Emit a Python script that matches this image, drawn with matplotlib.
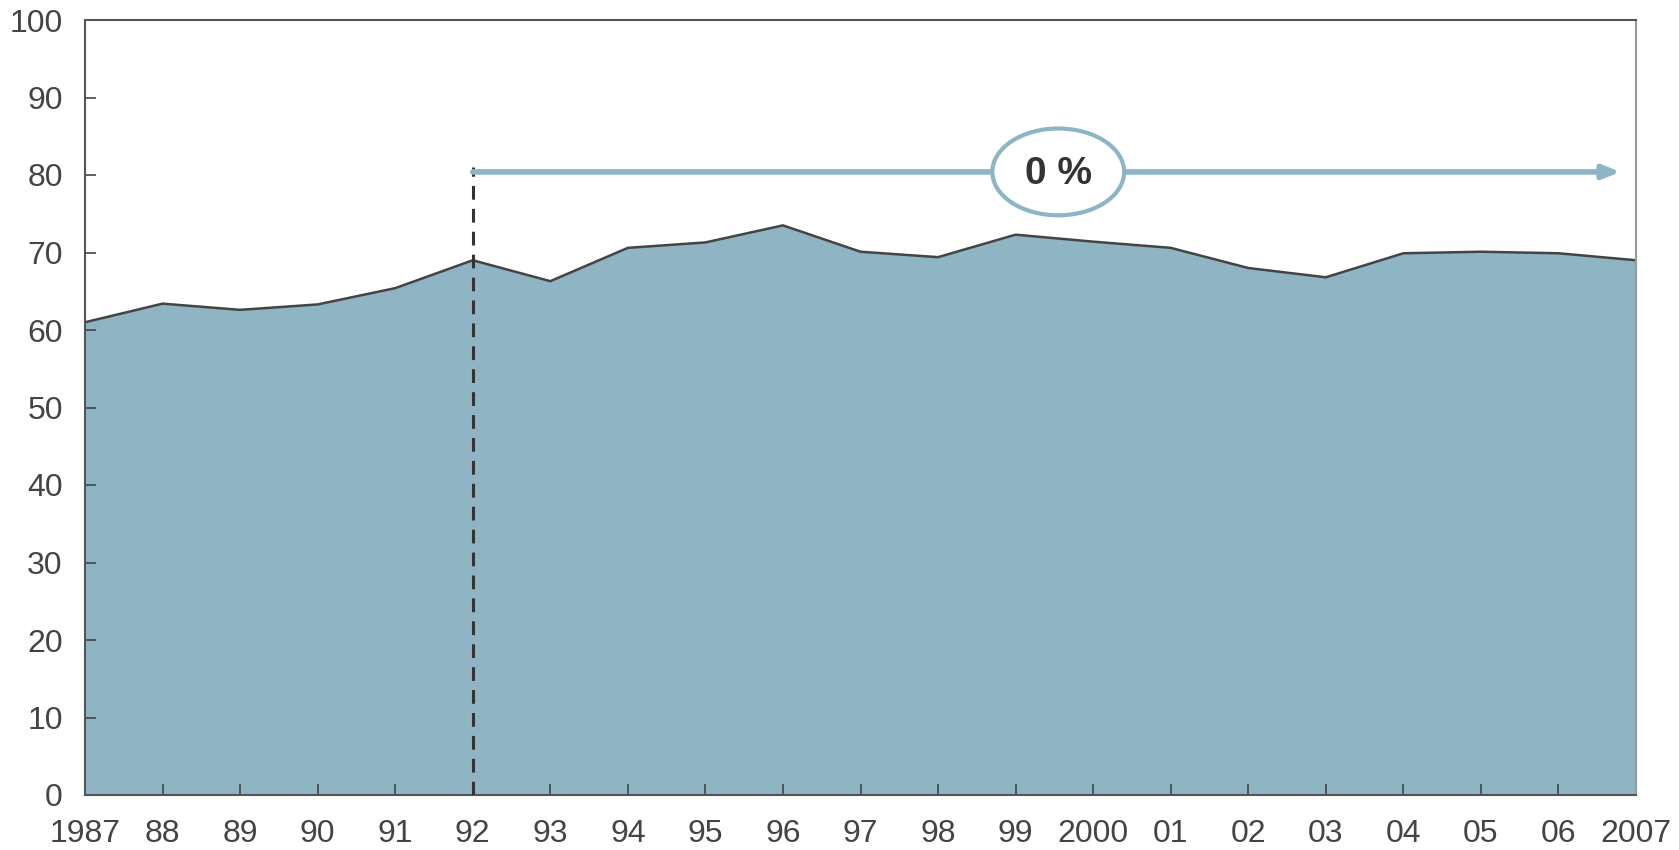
import matplotlib
matplotlib.use("Agg")
import matplotlib.pyplot as plt
from matplotlib.patches import Ellipse

years = list(range(1987, 2008))
values = [61.0, 63.4, 62.6, 63.3, 65.4, 69.0, 66.3, 70.6, 71.3, 73.5, 70.1,
          69.4, 72.3, 71.4, 70.6, 68.0, 66.8, 69.9, 70.1, 69.9, 69.0]
xlabels = ["1987", "88", "89", "90", "91", "92", "93", "94", "95", "96", "97",
           "98", "99", "2000", "01", "02", "03", "04", "05", "06", "2007"]
yticks = list(range(0, 101, 10))
marker_year = 1992
arrow_level = 80.4
label_text = "0 %"

plt.rcParams['font.family'] = ['Liberation Sans', 'DejaVu Sans']

fig = plt.figure(figsize=(16.79, 8.5), dpi=100)
ax = fig.add_axes([85/1679, 1 - 795/850, (1636-85)/1679, (795-20)/850])

fill_c = "#8fb4c4"
line_c = "#444444"
txt_c = "#444444"

ax.fill_between(years, values, 0, color=fill_c, linewidth=0, zorder=1)
ax.plot(years, values, color=line_c, linewidth=1.8, zorder=2)

ax.set_xlim(years[0], years[-1])
ax.set_ylim(0, 100)
ax.set_xticks(years)
ax.set_xticklabels(xlabels)
ax.set_yticks(yticks)
ax.tick_params(axis='both', direction='in', length=8, width=1.2, colors=line_c,
               labelcolor=txt_c, labelsize=23)
ax.tick_params(axis='x', pad=17)
ax.tick_params(axis='y', pad=16)
for s in ax.spines.values():
    s.set_color("#555555")
    s.set_linewidth(1.5)
ax.spines['right'].set_color("#999999")

# dashed vertical marker
ax.plot([marker_year, marker_year], [0, 81], color="#333333", linewidth=2.2,
        linestyle=(0, (4.5, 3)), zorder=3)
# arrow
ax.annotate("", xy=(2006.8, arrow_level), xytext=(marker_year, arrow_level),
            arrowprops=dict(arrowstyle="-|>,head_length=1.0,head_width=0.4",
                            color="#8db5c5", linewidth=4, shrinkA=0, shrinkB=0),
            zorder=3)
ell = Ellipse((1999.55, arrow_level), width=1.7, height=11.2, facecolor="white",
              edgecolor="#8db5c5", linewidth=3, zorder=4)
ax.add_patch(ell)
ax.text(1999.55, arrow_level - 0.3, label_text, ha='center', va='center', fontsize=28,
        color="#333333", fontweight='bold', zorder=5)

fig.savefig("out.png", dpi=100)
